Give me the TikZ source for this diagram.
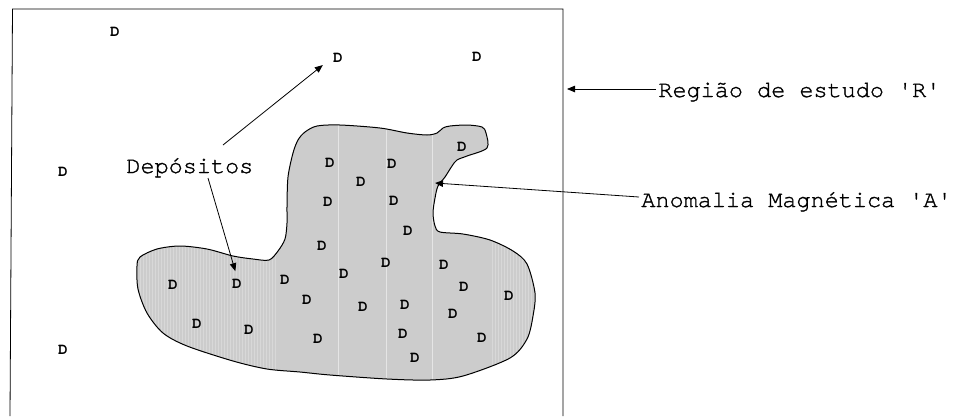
\documentclass[tikz,border=0pt]{standalone}
\usepackage{fontspec}
\setmonofont{TeX Gyre Cursor}
\newfontfamily\lblfont{TeX Gyre Cursor}[FakeBold=1.2]
\usetikzlibrary{arrows.meta}

\begin{document}
\begin{tikzpicture}[
	x=1pt, y=-1pt,
	line width=0.8pt,
	lbl/.style={
		font=\lblfont\fontsize{23.5}{26}\selectfont,
		inner sep=2pt,
		anchor=base west
	},
	dep/.style={
		font=\ttfamily\bfseries\fontsize{16}{18}\selectfont,
		inner sep=2pt
	},
	arr/.style={
		-{Triangle[length=8pt,width=6.5pt]}
	}
	]
	\useasboundingbox (0,0) rectangle (973,416);

	% study region (cut off at the bottom)
	\coordinate (rBL) at (10,416);
	\coordinate (rTL) at (12.5,9);
	\coordinate (rTR) at (563,9);
	\coordinate (rBR) at (563,416);
	\draw (rBL) -- (rTL) -- (rTR) -- (rBR);

	% magnetic anomaly
	\def\blob{plot[smooth cycle, tension=0.5] coordinates {
		(137,266) (140,257) (157,249) (180,246) (207,249) (233,256) (253,259)
		(269,260) (278,251) (285,239) (287,223) (287,206) (288,177) (293,153)
		(298,140) (305,132) (317,126) (340,125) (380,128) (407,133) (427,135)
		(437,133) (443,128) (450,126) (467,125) (482,127) (486,133) (487,148)
		(467,156) (457,160) (452,166) (445,177) (438,186) (435,198) (433,213)
		(435,226) (440,232) (463,234) (490,240) (513,251) (527,264) (535,293)
		(533,316) (527,339) (510,358) (463,376) (430,380) (387,379) (330,375)
		(300,372) (267,369) (233,361) (187,346) (163,333) (147,313) (138,289)}}
	\fill[black!20] \blob;
	\begin{scope}
		\clip \blob;
		\foreach \x in {140,143,...,275,492,495,...,535}
			\draw[white, opacity=0.25, line width=0.5pt] (\x,120) -- (\x,385);
		\foreach \x in {338,386,432}
			\draw[white, opacity=0.5, line width=0.6pt] (\x,120) -- (\x,385);
	\end{scope}
	\draw[line width=1pt] \blob;

	% deposits
	\foreach \x/\y [count=\i] in {115/32, 338/58, 477/57, 63/172, 63/350,
		462/147, 330/163, 392/164, 361/182, 328/202, 394/201, 408/231,
		322/246, 386/263, 444/265, 344/274, 173/285, 237/284, 285/280,
		464/287, 509/296, 307/300, 363/307, 405/305, 453/314, 197/324,
		249/330, 318/339, 403/334, 482/338, 415/358}
		\node[dep] (D\i) at (\x,\y) {D};

	% labels
	\node[lbl] (Dep) at (124,173) {Depósitos};
	\node[lbl] (Reg) at (656,97) {Região de estudo 'R'};
	\node[lbl] (Anom) at (639,207) {Anomalia Magnética 'A'};

	\coordinate (rEdge) at (567,89);
	\coordinate (aTip) at (435,183);

	\draw[arr] ([xshift=99pt,yshift=28pt]Dep.base west) -- ([xshift=-8pt]D2.south west);
	\draw[arr, shorten >=6pt] ([xshift=84pt,yshift=-5pt]Dep.base west) -- (D18.north);
	\draw[arr] (Reg.west |- rEdge) -- (rEdge);
	\draw[arr] ([yshift=10pt]Anom.base west) -- (aTip);

\end{tikzpicture}
\end{document}
